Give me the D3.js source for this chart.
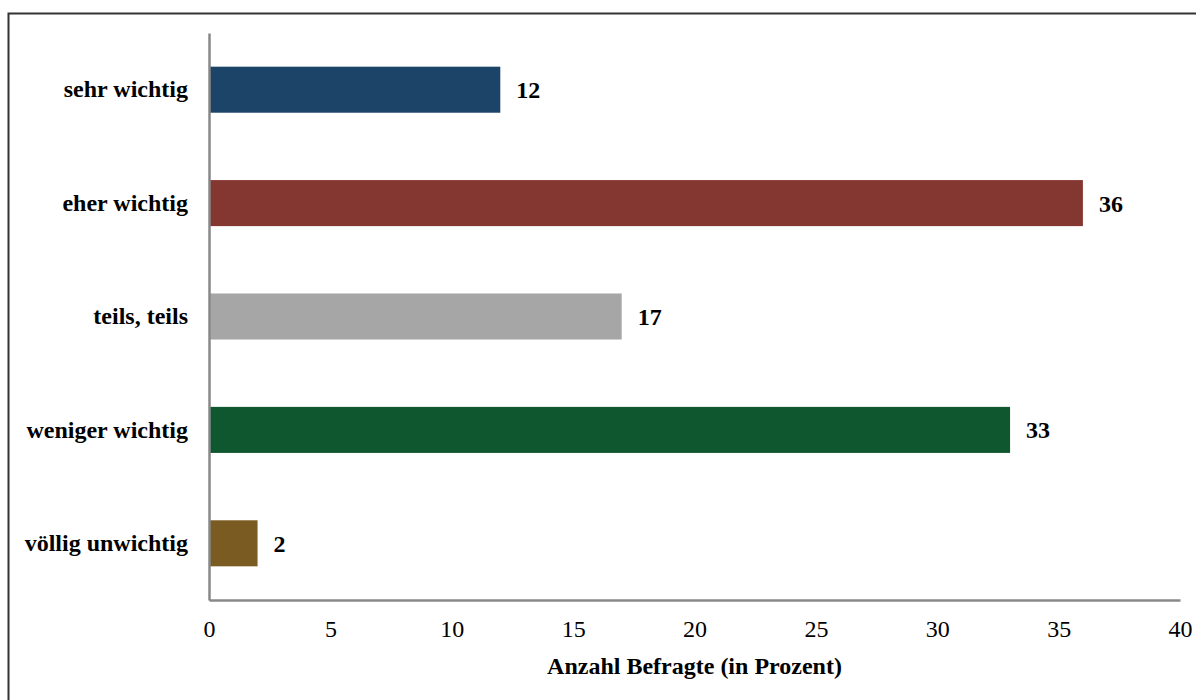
<!DOCTYPE html>
<html>
<head>
<meta charset="utf-8">
<script src="https://cdn.jsdelivr.net/npm/d3@7"></script>
<style>
  body { margin: 0; background: white; }
  svg text { font-family: "Liberation Serif", "Times New Roman", serif; fill: #000; }
</style>
</head>
<body>
<div id="chart"></div>
<script>
'use strict';

const categories = ['sehr wichtig', 'eher wichtig', 'teils, teils', 'weniger wichtig', 'völlig unwichtig'];
const values = [12, 36, 17, 33, 2];
const barColors = ['#1b4468', '#843731', '#a6a6a6', '#0f572e', '#7a5c23'];
const xTicks = [0, 5, 10, 15, 20, 25, 30, 35, 40];
const xTitle = 'Anzahl Befragte (in Prozent)';

const width = 1196, height = 700;
const plot = {left: 209, right: 1180, top: 33, bottom: 600};

const svg = d3.select('#chart')
              .append('svg')
                .attr('width', width)
                .attr('height', height);

// outer frame, runs off the right and bottom edge like the original
svg.append('rect')
   .attr('x', 8.5).attr('y', 13.5)
   .attr('width', 1200).attr('height', 700)
   .attr('fill', 'white')
   .attr('stroke', '#333').attr('stroke-width', 2);

const x = d3.scaleLinear().domain([0, 40]).range([plot.left, plot.right]);
const y = d3.scaleBand()
            .domain(categories)
            .range([plot.top, plot.bottom])
            .paddingInner(0.594)
            .paddingOuter(0.297);

const data = categories.map((c, i) => ({cat: c, val: values[i], color: barColors[i]}));

svg.append('g').selectAll('rect')
   .data(data)
   .enter().append('rect')
     .attr('x', x(0))
     .attr('y', d => y(d.cat))
     .attr('width', d => x(d.val) - x(0))
     .attr('height', y.bandwidth())
     .attr('fill', d => d.color);

// value labels
svg.append('g').selectAll('text')
   .data(data)
   .enter().append('text')
     .attr('x', d => x(d.val) + 16)
     .attr('y', d => y(d.cat) + y.bandwidth() / 2)
     .attr('dy', '0.35em')
     .style('font-size', '24px')
     .style('font-weight', 'bold')
     .text(d => d.val);

// x axis
const xAxis = svg.append('g')
   .attr('transform', 'translate(0,' + plot.bottom + ')')
   .call(d3.axisBottom(x).tickValues(xTicks).tickSize(0).tickPadding(20));
xAxis.select('.domain').attr('stroke', '#888').attr('stroke-width', 2.5);
xAxis.selectAll('text').style('font-size', '24px')
     .style('font-family', '"Liberation Serif", serif');

// y axis
const yAxis = svg.append('g')
   .attr('transform', 'translate(' + plot.left + ',0)')
   .call(d3.axisLeft(y).tickSize(0).tickPadding(21));
yAxis.select('.domain').attr('stroke', '#888').attr('stroke-width', 2.5);
yAxis.selectAll('text').style('font-size', '24px').style('font-weight', 'bold')
     .style('font-family', '"Liberation Serif", serif');

svg.append('text')
   .attr('x', (plot.left + plot.right) / 2)
   .attr('y', 674)
   .attr('text-anchor', 'middle')
   .style('font-size', '24px')
   .style('font-weight', 'bold')
   .text(xTitle);
</script>
</body>
</html>
